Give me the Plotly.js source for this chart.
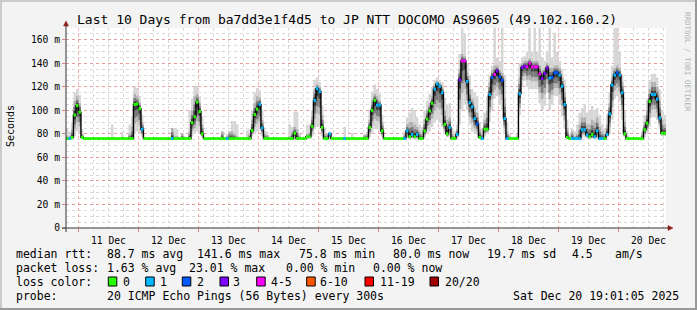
<!DOCTYPE html>
<html><head><meta charset="utf-8">
<script src="https://cdn.plot.ly/plotly-3.0.1.min.js"></script>
<style>html,body{margin:0;padding:0;background:#f3f3f3;}#chart{width:697px;height:310px;}</style>
</head><body><div id="chart"></div>
<script>
// One value per hour. First row: Dec 10 19:00-23:00, then one row per day (Dec 11 .. Dec 20, last day ends 18:00)
const dayNames = ['10 Dec','11 Dec','12 Dec','13 Dec','14 Dec','15 Dec','16 Dec','17 Dec','18 Dec','19 Dec','20 Dec'];
const medianByDay = [
  [76,76,77,96,104],
  [98.5,77,76,76,76,76, 76,76,76,76,76,76, 76,76,76,76,76,76, 76,76,76,76,105,105.5],
  [101.5,84,76,76,76,76, 76,76,76,76,76,76, 76,76,76,76,76,76, 76,76,76,89.5,94.5,107],
  [99,80,76,76,76,76, 76,76,76,76,76,76, 76,76,76,76,76,76, 76,76,76,83,96.5,101],
  [105,85,76,76,76,76, 76,76,76,76,76,76, 76,76,80.5,76,76,76, 76,77.5,77.5,86.5,108.5,118.5],
  [116,85.5,76,76,80,76, 76,76,76,76,76,76, 76,76,76,76,76,76, 76,76,85.5,100,108.5,104.5],
  [104.5,82.5,76,76,76,76, 76,76,76,76,76,82.5, 77.5,79.5,77.5,79.5,76,76, 82.5,92.5,99.5,106,118,122.5],
  [120.5,115,88,80,85.5,76, 76,79.5,126,142,142,124.5, 106.5,103,93,88.5,77,76, 84,84,113.5,128,130.5,133.5],
  [128.5,125.5,93,76,76,76, 76,76,114,136.5,137.5,137, 140,137,137,137,131,127, 131.5,136,127.5,128,132,132],
  [130,120.5,105,77,76,76, 76,76,76,83.5,83.5,79, 77.5,79.5,77.5,82.5,76,76, 76,79.5,97,121.5,130,132],
  [130,115,80,76,76,76, 76,76,76,76,83.5,89, 107.5,113.5,113.5,109.5,93.5,80.5, 80.5]
];
// pings lost (out of 20) per hour
const lossByDay = [
  [0,1,0,0,0],
  [0,0,0,0,0,0, 0,0,0,0,0,0, 0,0,0,0,0,0, 0,0,0,0,0,0],
  [0,1,0,0,0,0, 0,0,0,0,0,0, 0,1,0,0,0,0, 0,0,0,0,0,0],
  [0,0,0,0,0,0, 0,0,0,0,0,1, 0,0,0,0,0,0, 0,0,0,0,0,0],
  [1,1,0,0,0,0, 0,0,0,0,0,0, 0,0,0,0,0,0, 0,0,0,0,1,1],
  [1,0,0,0,1,0, 0,0,0,0,1,0, 0,0,0,0,0,0, 0,0,0,0,0,1],
  [1,0,0,0,0,0, 0,0,0,0,1,1, 0,1,0,1,0,0, 0,0,0,0,1,1],
  [1,1,0,0,1,0, 0,1,3,4,4,1, 1,1,1,2,0,1, 0,0,1,2,4,3],
  [2,2,1,1,0,0, 0,0,1,3,3,4, 4,4,4,4,4,3, 3,3,1,2,2,2],
  [1,1,1,0,0,1, 1,1,1,1,1,1, 0,0,1,1,1,1, 0,1,1,1,1,2],
  [1,1,0,0,0,0, 0,0,0,0,0,0, 0,1,1,1,1,0, 0]
];
// smoke: highest ping (light), top of the dense smoke, lowest ping
const smokeMaxByDay = [
  [84,82,90,115,118],
  [113,84,76,76,76,76, 76,76,76,76,76,76, 76,88,76,76,76,82, 76,76,88,95,120,119],
  [112,96,76,76,76,76, 76,76,76,76,76,76, 76,85,84,84,76,80, 78,76,100,110,121,121],
  [112,95,76,76,76,76, 76,76,76,82,76,80, 82,91,91,88,76,76, 76,83,84,100,115,119],
  [117,100,83,82,76,76, 76,76,76,76,76,76, 88,86,99,99,80,76, 76,88,88,100,126,128],
  [124,104,84,80,82,76, 76,76,76,76,86,76, 76,81,76,76,76,76, 80,82,100,116,122,118],
  [114,96,76,76,76,76, 76,76,76,76,82,94, 98,102,100,94,88,86, 100,108,114,120,126,128],
  [126,124,110,105,106,85, 82,88,148,170,165,140, 130,118,115,112,90,85, 98,112,130,138,170,145],
  [142,170,130,90,80,76, 76,80,140,145,146,150, 170,150,170,150,170,145, 142,150,170,145,166,150],
  [142,135,125,92,80,84, 82,88,98,102,105,98, 100,104,100,102,96,88, 85,96,115,138,170,170],
  [150,130,100,82,76,76, 76,76,76,82,96,110, 126,131,131,128,118,100, 96]
];
const smokeDarkByDay = [
  [78,78,84,108,112],
  [106,80,76,76,76,76, 76,76,76,76,76,76, 76,77,76,76,76,77, 76,76,80,86,114,112],
  [106,90,76,76,76,76, 76,76,76,76,76,76, 76,85,78,78,76,80, 77,76,82,100,112,114],
  [106,88,76,76,76,76, 76,76,76,82,76,78, 82,82,80,78,76,76, 76,77,80,92,106,112],
  [111,92,80,79,76,76, 76,76,76,76,76,76, 78,82,86,84,78,76, 76,80,81,95,118,122],
  [120,96,80,79,81,76, 76,76,76,76,77,76, 76,77,76,76,76,76, 79,80,92,108,114,112],
  [108,90,76,76,76,76, 76,76,76,76,80,88, 90,90,88,86,82,80, 92,100,106,112,122,125],
  [123,120,100,92,94,80, 78,84,135,148,146,132, 118,110,102,98,84,80, 92,100,124,134,138,138],
  [134,132,110,82,78,76, 76,78,128,140,142,142, 144,142,142,142,138,134, 136,140,136,136,138,138],
  [136,128,115,85,78,82, 78,80,88,94,94,88, 88,92,90,94,86,82, 80,88,106,128,136,138],
  [136,124,90,78,76,76, 76,76,76,80,90,100, 118,124,124,120,108,92, 88]
];
const smokeMinByDay = [
  [75.5,75.5,76,78,82],
  [80,76,76,76,76,76, 76,76,76,76,76,76, 76,76,76,76,76,76, 76,76,76,76,80,82],
  [80,77,76,76,76,76, 76,76,76,76,76,76, 76,76,76,76,76,76, 76,76,76,78,80,82],
  [80,77,76,76,76,76, 76,76,76,76,76,76, 76,76,76,76,76,76, 76,76,76,78,80,82],
  [83,78,76,76,76,76, 76,76,76,76,76,76, 76,76,76,76,76,76, 76,76,76,78,84,86],
  [86,78,76,76,76,76, 76,76,76,76,76,76, 76,76,76,76,76,76, 76,76,77,80,84,84],
  [82,77,76,76,76,76, 76,76,76,76,76,77, 76,76,76,76,76,76, 77,80,82,86,90,92],
  [90,86,80,77,78,76, 76,76,88,100,105,100, 88,82,80,79,76,76, 78,80,90,100,110,112],
  [105,100,80,76,76,76, 76,76,96,120,125,120, 118,118,118,118,106,100, 104,115,100,105,112,112],
  [105,95,84,76,76,76, 76,76,76,77,77,76, 76,76,76,77,76,76, 76,77,80,92,110,112],
  [108,92,77,76,76,76, 76,76,76,76,77,80, 86,94,94,92,84,78, 78]
];
const lossLabels = ['0','1','2','3','4-5','6-10','11-19','20/20'];
const lossColors = ['#26ff00','#00b8ff','#0059ff','#7e00ff','#ff00ff','#ff5500','#ff0000','#a00000'];
const yTickVals = [0,20,40,60,80,100,120,140,160];
const yTickText = ['0','20 m','40 m','60 m','80 m','100 m','120 m','140 m','160 m'];
const legendRows = [
  {y:254, items:[[16,'median rtt:'],[107.3,'88.7 ms avg'],[196.7,'141.6 ms max'],[299,'75.8 ms min'],[393.3,'80.0 ms now'],[486.7,'19.7 ms sd'],[571.7,'4.5'],[615,'am/s']]},
  {y:268.3, items:[[16,'packet loss:'],[107.3,'1.63 % avg'],[189.3,'23.01 % max'],[286,'0.00 % min'],[372.7,'0.00 % now']]},
  {y:281.7, items:[[16,'loss color:']]},
  {y:296, items:[[16,'probe:'],[107.3,'20 ICMP Echo Pings (56 Bytes) every 300s'],[513.3,'Sat Dec 20 19:01:05 2025']]}
];
const boxX = [108.3,145.7,182.3,220,256.7,306.7,365,430];
const boxLabelX = [122.7,160,196.7,233.3,270.7,320,380,445];

// sanity check of row lengths
const expectLen = [5,24,24,24,24,24,24,24,24,24,19];
[['median',medianByDay],['loss',lossByDay],['smokeMax',smokeMaxByDay],['smokeDark',smokeDarkByDay],['smokeMin',smokeMinByDay]].forEach(([n,a])=>{
  a.forEach((row,i)=>{ if(row.length!==expectLen[i]) throw new Error(n+' '+dayNames[i]+' has '+row.length+' values'); });
});
const median = medianByDay.flat(), loss = lossByDay.flat();
const smokeMax = smokeMaxByDay.flat(), smokeDark = smokeDarkByDay.flat(), smokeMin = smokeMinByDay.flat();

const HOUR = 3600000;
const t0 = Date.UTC(2025,11,10,19,0,0);
const times = median.map((_, i) => t0 + i*HOUR);
const rangeStart = Date.UTC(2025,11,10,19,1,5);
const rangeEnd = Date.UTC(2025,11,20,19,1,5);

function cat(l){ if(l<=3) return l; if(l<=5) return 4; if(l<=10) return 5; if(l<=19) return 6; return 7; }

const traces = [];
function smokeLayer(lower, upper, color){
  traces.push({type:'bar', x:times, base:lower, y:upper.map((u,i)=>Math.max(0,u-lower[i])),
    offset:0, width:HOUR, marker:{color:color, line:{width:0}}, hoverinfo:'skip', showlegend:false});
}
const dLow2 = median.map((m,i)=>smokeMin[i]+(m-smokeMin[i])*0.35);
const dLow3 = median.map((m,i)=>m-(m-smokeMin[i])*0.45);
const dHi3 = median.map((m,i)=>m+(smokeDark[i]-m)*0.6);
const dLow4 = median.map((m,i)=>m-(m-smokeMin[i])*0.2);
const dHi4 = median.map((m,i)=>m+(smokeDark[i]-m)*0.3);
smokeLayer(smokeMin, smokeMax, '#d6d6d6');
smokeLayer(dLow2, smokeDark, '#b2b2b2');
smokeLayer(dLow3, dHi3, '#7a7a7a');
smokeLayer(dLow4, dHi4, '#404040');

traces.push({type:'scatter', mode:'lines', x:times.concat([times[times.length-1]+HOUR]),
  y:median.concat([median[median.length-1]]), line:{color:'#000', width:1.4, shape:'hv'},
  hoverinfo:'skip', showlegend:false});
for(let c=0;c<lossColors.length;c++){
  const xs=[], ys=[];
  median.forEach((m,i)=>{ if(cat(loss[i])===c){ xs.push(times[i], times[i]+HOUR, null); ys.push(m,m,null);} });
  if(xs.length) traces.push({type:'scatter', mode:'lines', x:xs, y:ys, line:{color:lossColors[c], width:3},
    hoverinfo:'skip', showlegend:false, connectgaps:false});
}

const X = p => (p-66)/600;
const Y = p => (228-p)/200;
const mono = 'DejaVu Sans Mono';
const annotations = [];
const shapes = [];
annotations.push({text:'Last 10 Days from ba7dd3e1f4d5 to JP NTT DOCOMO AS9605 (49.102.160.2)', xref:'paper', yref:'paper',
  x:X(347), y:Y(19), xanchor:'center', yanchor:'middle', showarrow:false, font:{family:mono, size:13, color:'#000'}});
annotations.push({text:'Seconds', xref:'paper', yref:'paper', x:X(10), y:Y(126), textangle:-90, xanchor:'center', yanchor:'middle',
  showarrow:false, font:{family:mono, size:10, color:'#000'}});
annotations.push({text:'RRDTOOL / TOBI OETIKER', xref:'paper', yref:'paper', x:X(688), y:Y(62), textangle:90, xanchor:'center', yanchor:'middle',
  showarrow:false, font:{family:mono, size:7.5, color:'#b4b4b4'}});
legendRows.forEach(r=>r.items.forEach(it=>annotations.push({text:it[1], xref:'paper', yref:'paper', x:X(it[0]-1), y:Y(r.y),
  xanchor:'left', yanchor:'middle', showarrow:false, borderpad:0, font:{family:mono, size:11.5, color:'#000'}})));
lossLabels.forEach((lab,i)=>{
  annotations.push({text:lab, xref:'paper', yref:'paper', x:X(boxLabelX[i]-1), y:Y(281.7), xanchor:'left', yanchor:'middle',
    showarrow:false, borderpad:0, font:{family:mono, size:11.5, color:'#000'}});
  shapes.push({type:'rect', xref:'paper', yref:'paper', x0:X(boxX[i]), x1:X(boxX[i]+8.5), y0:Y(286), y1:Y(277),
    fillcolor:lossColors[i], line:{color:'#000', width:1}});
});
shapes.push({type:'line', xref:'paper', yref:'paper', x0:X(66), x1:X(66), y0:Y(232), y1:Y(24), line:{color:'#333', width:1}});
shapes.push({type:'line', xref:'paper', yref:'paper', x0:X(62), x1:X(670), y0:Y(228), y1:Y(228), line:{color:'#333', width:1}});
shapes.push({type:'path', xref:'paper', yref:'paper', path:`M${X(63.5)},${Y(26)} L${X(68.5)},${Y(26)} L${X(66)},${Y(21)} Z`,
  fillcolor:'#8b1c1c', line:{color:'#8b1c1c', width:0.5}});
shapes.push({type:'path', xref:'paper', yref:'paper', path:`M${X(668)},${Y(225.5)} L${X(668)},${Y(230.5)} L${X(673)},${Y(228)} Z`,
  fillcolor:'#8b1c1c', line:{color:'#8b1c1c', width:0.5}});
shapes.push({type:'rect', xref:'paper', yref:'paper', x0:X(0), x1:X(2), y0:Y(310), y1:Y(0), fillcolor:'#cbcbcb', line:{width:0}, layer:'below'});
shapes.push({type:'rect', xref:'paper', yref:'paper', x0:X(0), x1:X(697), y0:Y(2), y1:Y(0), fillcolor:'#cbcbcb', line:{width:0}, layer:'below'});
shapes.push({type:'rect', xref:'paper', yref:'paper', x0:X(695), x1:X(697), y0:Y(310), y1:Y(0), fillcolor:'#999999', line:{width:0}});
shapes.push({type:'rect', xref:'paper', yref:'paper', x0:X(0), x1:X(697), y0:Y(310), y1:Y(308), fillcolor:'#999999', line:{width:0}});

const layout = {
  width:697, height:310, margin:{l:66, r:31, t:28, b:82},
  paper_bgcolor:'#f3f3f3', plot_bgcolor:'#ffffff', showlegend:false,
  barmode:'overlay',
  xaxis:{type:'date', range:[rangeStart, rangeEnd], tick0:'2025-12-11', dtick:86400000, tickformat:'%d %b',
    ticklabelmode:'period', showgrid:true, gridcolor:'rgba(255,90,90,0.5)', griddash:'dot', gridwidth:1,
    minor:{dtick:21600000, showgrid:true, gridcolor:'#d9d9d9', griddash:'dot', gridwidth:1},
    ticks:'outside', ticklen:3, tickcolor:'#e08080', showline:false, zeroline:false,
    tickfont:{family:mono, size:9.7, color:'#000'}, fixedrange:true},
  yaxis:{range:[0,170], tickmode:'array', tickvals:yTickVals, ticktext:yTickText,
    showgrid:true, gridcolor:'rgba(255,90,90,0.5)', griddash:'dot', gridwidth:1,
    minor:{tickmode:'linear', tick0:0, dtick:5, showgrid:true, gridcolor:'#d9d9d9', griddash:'dot', gridwidth:1},
    ticks:'outside', ticklen:3, tickcolor:'#e08080', showline:false, zeroline:false,
    tickfont:{family:mono, size:9.7, color:'#000'}, fixedrange:true},
  annotations:annotations, shapes:shapes
};
Plotly.newPlot('chart', traces, layout, {staticPlot:true, displayModeBar:false});
</script></body></html>
